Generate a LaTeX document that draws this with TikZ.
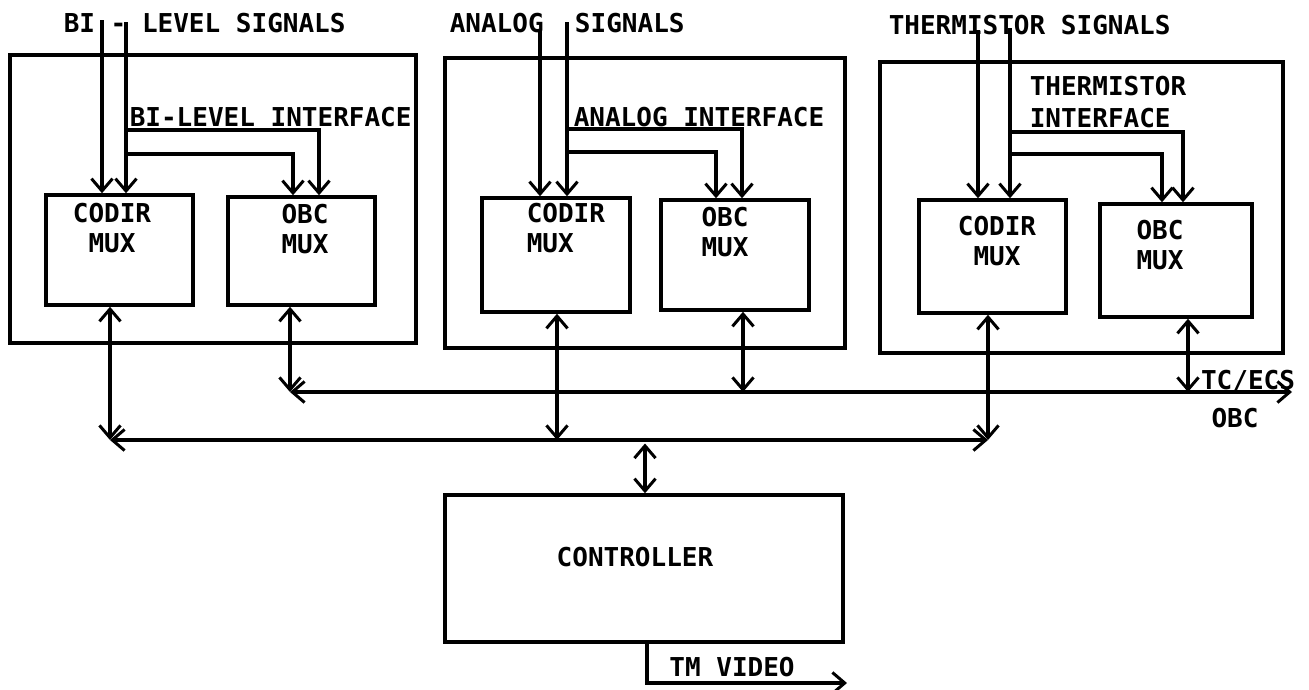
\documentclass[tikz,border=0pt]{standalone}
\usepackage{fontspec}
\setmonofont{DejaVu Sans Mono}
\usetikzlibrary{arrows.meta,fit,calc}
\begin{document}
\begin{tikzpicture}[x=0.02cm,y=-0.02cm,
  line width=2pt,
  >={Straight Barb[length=7pt,width=12pt,line width=1.7pt]},
  box/.style={draw,rectangle,inner sep=0pt,line width=2pt},
  txt/.style={font=\ttfamily\bfseries\fontsize{14.8}{17.5}\selectfont,inner sep=0pt},
  lbl/.style={txt,align=left,anchor=west}]
\useasboundingbox (0,0) rectangle (1309,690);

% group boxes
\node[box,fit={(10,55) (416,343)}] (L) {};
\node[box,fit={(46,195) (193,305)}] (Lc) {};
\node[box,fit={(228,197) (375,305)}] (Lo) {};
\node[box,fit={(445,58) (845,348)}] (M) {};
\node[box,fit={(482,198) (630,312)}] (Mc) {};
\node[box,fit={(661,200) (809,310)}] (Mo) {};
\node[box,fit={(880,62) (1283,353)}] (R) {};
\node[box,fit={(919,200) (1066,313)}] (Rc) {};
\node[box,fit={(1100,204) (1252,317)}] (Ro) {};
\node[box,fit={(445,495) (843,642)}] (K) {};

% texts
\node[lbl] (tL) at (62,23) {BI - LEVEL SIGNALS};
\node[lbl] (tM) at (448,23) {ANALOG\ \ SIGNALS};
\node[lbl] (tR) at (887,25) {THERMISTOR SIGNALS};
\node[lbl] (iL) at (128,117) {BI-LEVEL INTERFACE};
\node[lbl] (iM) at (572,117) {ANALOG INTERFACE};
\node[lbl,font=\ttfamily\bfseries\fontsize{14.8}{18.5}\selectfont] (iR) at (1028,102) {THERMISTOR\\INTERFACE};
\node[txt,align=center] (Lct) at (112,228) {CODIR\\MUX};
\node[txt,align=center] (Lot) at (305,229) {OBC\\MUX};
\node[lbl] (Mct) at (525,228) {CODIR\\MUX};
\node[txt,align=center] (Mot) at (725,232) {OBC\\MUX};
\node[txt,align=center] (Rct) at (997,241) {CODIR\\MUX};
\node[txt,align=center] (Rot) at (1160,245) {OBC\\MUX};
\node[txt] (Kt) at (635,557) {CONTROLLER};
\node[txt] (tv) at (732,667) {TM VIDEO};
\node[txt] (tc) at (1248,381) {TC/ECS};
\node[txt] (ob) at (1235,418) {OBC};

% signal inputs
\coordinate (s1) at (102,20);
\coordinate (s2) at (126,22);
\coordinate (s3) at (540,30);
\coordinate (s4) at (567,22);
\coordinate (s5) at (978,30);
\coordinate (s6) at (1010,28);
\coordinate (Lb1) at (293,154);
\coordinate (Lb2) at (319,130);
\coordinate (Mb1) at (716,152);
\coordinate (Mb2) at (742,129);
\coordinate (Rb1) at (1162,154);
\coordinate (Rb2) at (1183,132);

\draw[->] (s1) -- (s1 |- Lc.north);
\draw[->] (s2) -- (s2 |- Lc.north);
\draw[->] (s2 |- Lb1) -- (Lb1) -- (Lb1 |- Lo.north);
\draw[->] (s2 |- Lb2) -- (Lb2) -- (Lb2 |- Lo.north);
\draw[->] (s3) -- (s3 |- Mc.north);
\draw[->] (s4) -- (s4 |- Mc.north);
\draw[->] (s4 |- Mb1) -- (Mb1) -- (Mb1 |- Mo.north);
\draw[->] (s4 |- Mb2) -- (Mb2) -- (Mb2 |- Mo.north);
\draw[->] (s5) -- (s5 |- Rc.north);
\draw[->] (s6) -- (s6 |- Rc.north);
\draw[->] (s6 |- Rb1) -- (Rb1) -- (Rb1 |- Ro.north);
\draw[->] (s6 |- Rb2) -- (Rb2) -- (Rb2 |- Ro.north);

% buses
\coordinate (uL) at (290,392);
\coordinate (uR) at (1292,392);
\coordinate (lL) at (110,440);
\coordinate (lR) at (988,440);
\coordinate (lm) at (557,440);
\coordinate (um) at (743,392);
\coordinate (ur) at (1188,392);
\coordinate (lc) at (645,440);
\coordinate (tvc) at (647,683);
\coordinate (tve) at (847,683);

\draw[<->] (uL) -- (uR);
\draw[<->] (lL) -- (lR);
\draw[<->] (lL |- Lc.south) -- (lL);
\draw[<->] (uL |- Lo.south) -- (uL);
\draw[<->] (lm |- Mc.south) -- (lm);
\draw[<->] (um |- Mo.south) -- (um);
\draw[<->] (lR |- Rc.south) -- (lR);
\draw[<->] (ur |- Ro.south) -- (ur);
\draw[<->] ([yshift=-2pt]lc) -- (lc |- K.north);
\draw[->] (tvc |- K.south) -- (tvc) -- (tve);
\end{tikzpicture}
\end{document}
